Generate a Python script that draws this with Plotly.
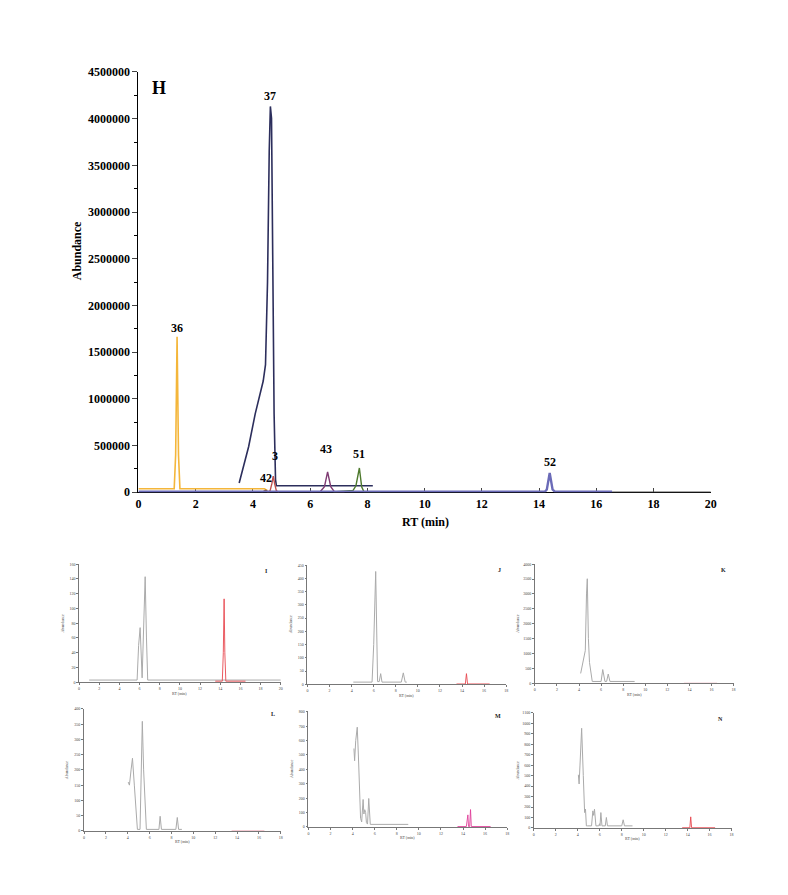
import plotly.graph_objects as go

W, H = 788, 895
SERIF = "Liberation Serif"

# ---------------- main chart (H) data ----------------
p36_x = [0, 1.25, 1.3, 1.35, 1.4, 1.45, 4.4, 4.5]
p36_y = [38000, 38000, 400000, 1665000, 400000, 38000, 38000, 20000]

p37_x = [3.52, 3.7, 3.85, 4.08, 4.19, 4.36, 4.44, 4.51, 4.57, 4.61, 4.65, 4.74, 4.79, 4.82, 8.19]
p37_y = [100000, 300000, 488000, 840000, 980000, 1191000, 1367000, 2245000, 3650000, 4131000,
         4005000, 840000, 137000, 70000, 70000]

p42_x = [4.3, 4.38, 4.45, 4.52, 4.6]
p42_y = [0, 8000, 22000, 8000, 0]

p3_x = [4.5, 4.6, 4.66, 4.71, 4.76, 4.82, 4.92]
p3_y = [0, 15000, 90000, 172000, 90000, 15000, 0]

p43_x = [6.0, 6.35, 6.5, 6.61, 6.72, 6.85, 7.2]
p43_y = [3000, 5000, 60000, 218000, 60000, 5000, 3000]

p51_x = [6.8, 7.3, 7.5, 7.6, 7.72, 7.8, 7.88, 8.45]
p51_y = [3000, 10000, 20000, 70000, 260000, 60000, 5000, 3000]

p52_x = [0, 14.2, 14.27, 14.37, 14.47, 14.55, 16.55]
p52_y = [6000, 6000, 30000, 207000, 30000, 6000, 6000]

tail_x = [16.55, 20]
tail_y = [0, 0]

main_labels = ["H", "36", "37", "42", "3", "43", "51", "52"]

# ---------------- small panels data ----------------
I_gray_x = [1.0, 5.75, 5.9, 6.05, 6.25, 6.35, 6.42, 6.55, 6.68, 6.8, 20]
I_gray_y = [3, 3, 50, 74, 6, 60, 90, 143, 60, 3, 3]
I_red_x = [13.5, 14.2, 14.3, 14.38, 14.45, 14.55, 16.5]
I_red_y = [1.5, 1.5, 40, 113, 40, 1.5, 1.5]

J_gray_x = [4.15, 5.85, 6.0, 6.18, 6.35, 6.5, 6.63, 6.75, 8.5, 8.68, 8.85, 9.0]
J_gray_y = [8, 8, 150, 426, 10, 10, 40, 8, 8, 43, 8, 8]
J_red_x = [13.5, 14.3, 14.4, 14.5, 16.5]
J_red_y = [1, 1, 40, 1, 1]

K_gray_x = [4.15, 4.35, 4.57, 4.68, 4.75, 4.85, 4.95, 5.2, 6.0, 6.15, 6.35, 6.5, 6.65, 6.8, 9.04]
K_gray_y = [330, 750, 1100, 3000, 3510, 1500, 700, 60, 60, 460, 60, 60, 310, 60, 60]
K_red_x = [13.5, 16.5]
K_red_y = [5, 5]

L_gray_x = [4.04, 4.15, 4.3, 4.43, 4.6, 4.88, 5.12, 5.25, 5.33, 5.45, 5.7, 6.85, 6.96, 7.08,
            8.4, 8.53, 8.65, 8.95]
L_gray_y = [160, 150, 200, 238, 150, 5, 5, 250, 359, 200, 5, 5, 48, 5, 5, 44, 5, 5]
L_red_x = [13.5, 16.5]
L_red_y = [1, 1]

M_gray_x = [4.12, 4.18, 4.28, 4.42, 4.52, 4.6, 4.72, 4.82, 4.95, 5.02, 5.1, 5.18, 5.25, 5.35,
            5.46, 5.6, 9.04]
M_gray_y = [545, 460, 600, 693, 500, 250, 60, 35, 191, 90, 120, 100, 30, 20, 198, 18, 18]
M_red_x = [13.5, 14.3, 14.44, 14.5, 14.6, 14.68, 14.75, 16.5]
M_red_y = [3, 3, 84, 3, 3, 121, 3, 3]

N_gray_x = [4.05, 4.12, 4.2, 4.35, 4.5, 4.62, 4.7, 4.78, 4.9, 5.25, 5.37, 5.45, 5.52, 5.65,
            5.9, 5.98, 6.02, 6.1, 6.2, 6.5, 6.6, 6.7, 8.0, 8.13, 8.25, 8.98]
N_gray_y = [508, 420, 600, 952, 500, 147, 180, 20, 20, 20, 163, 120, 179, 20, 20, 40, 20, 147,
            20, 20, 100, 20, 20, 78, 20, 20]
N_red_x = [13.5, 14.2, 14.28, 14.36, 16.5]
N_red_y = [2, 2, 106, 2, 2]


def px(x):
    return x / W


def py(y):
    return 1 - y / H


fig = go.Figure()

main_series = [
    (p36_x, p36_y, "#F4B63A", 1.6),
    (p37_x, p37_y, "#2C2E5C", 1.6),
    (p42_x, p42_y, "#7A4A2A", 1.2),
    (p3_x, p3_y, "#C0504D", 1.4),
    (p43_x, p43_y, "#7E3A72", 1.4),
    (p51_x, p51_y, "#4E7A2E", 1.4),
    (p52_x, p52_y, "#6B6BB8", 2.4),
    (tail_x, tail_y, "#555555", 1.5),
]
for xs, ys, col, w in main_series:
    fig.add_trace(go.Scatter(x=xs, y=ys, mode="lines", line=dict(color=col, width=w),
                             xaxis="x", yaxis="y", showlegend=False, hoverinfo="skip"))

bold13 = dict(family=SERIF, size=12, color="black", weight="bold")
layout = dict(
    width=W, height=H, margin=dict(l=0, r=0, t=0, b=0),
    paper_bgcolor="white", plot_bgcolor="white", showlegend=False,
    xaxis=dict(domain=[px(137), px(716)], range=[0, 20], dtick=2, ticks="inside", ticklen=4,
               showline=True, linecolor="black", linewidth=1.3, showgrid=False, zeroline=False,
               tickfont=bold13, anchor="y", layer="below traces"),
    yaxis=dict(domain=[py(493), py(66)], range=[0, 4500000], dtick=500000, tickformat="d",
               ticks="outside", ticklen=5, showline=True, linecolor="black", linewidth=1.3,
               showgrid=False, zeroline=False, tickfont=bold13, anchor="x",
               minor=dict(ticks="outside", dtick=250000, ticklen=3, tickcolor="black")),
)

annotations = []
lab_pos = {
    "H": (0.73, 4330000, 18), "36": (1.35, 1760000, 12), "37": (4.6, 4240000, 12),
    "42": (4.46, 158000, 12), "3": (4.77, 390000, 12), "43": (6.56, 464000, 12),
    "51": (7.7, 411000, 12), "52": (14.37, 327000, 12),
}
for lab in main_labels:
    x, y, s = lab_pos[lab]
    annotations.append(dict(x=x, y=y, xref="x", yref="y", text=lab, showarrow=False,
                            xanchor="center", yanchor="middle",
                            font=dict(family=SERIF, size=s, color="black", weight="bold")))
annotations.append(dict(x=px(427), y=py(523), xref="paper", yref="paper", text="RT (min)",
                        xanchor="center", yanchor="middle", showarrow=False, font=bold13))
annotations.append(dict(x=px(75), y=py(248), xref="paper", yref="paper", text="Abundance",
                        xanchor="center", yanchor="middle", textangle=-90, showarrow=False,
                        font=bold13))

# small panels
panels = [
    ("I", I_gray_x, I_gray_y, I_red_x, I_red_y, "#E8474F", (77, 281), (566, 686), 20, 160, 20, (267, 573)),
    ("J", J_gray_x, J_gray_y, J_red_x, J_red_y, "#E8474F", (308, 509), (567, 688), 18, 450, 50, (502, 572)),
    ("K", K_gray_x, K_gray_y, K_red_x, K_red_y, "#F2C0C8", (538, 739), (566, 687), 18, 4000, 500, (729, 572)),
    ("L", L_gray_x, L_gray_y, L_red_x, L_red_y, "#F2C0C8", (82, 281), (713, 837), 18, 400, 50, (273, 718)),
    ("M", M_gray_x, M_gray_y, M_red_x, M_red_y, "#E0409A", (309, 510), (716, 833), 18, 800, 100, (501, 720)),
    ("N", N_gray_x, N_gray_y, N_red_x, N_red_y, "#E8474F", (537, 737), (717, 834), 18, 1100, 100, (726, 723)),
]
tiny = dict(family=SERIF, size=4, color="#444444")
for i, (name, gx, gy, rx, ry, rcol, xd, yd, xmax, ymax, ydt, lpos) in enumerate(panels):
    n = i + 2
    xa, ya = f"x{n}", f"y{n}"
    fig.add_trace(go.Scatter(x=gx, y=gy, mode="lines", line=dict(color="#AAAAAA", width=1),
                             xaxis=xa, yaxis=ya, showlegend=False, hoverinfo="skip"))
    fig.add_trace(go.Scatter(x=rx, y=ry, mode="lines", line=dict(color=rcol, width=0.9),
                             xaxis=xa, yaxis=ya, showlegend=False, hoverinfo="skip"))
    layout[f"xaxis{n}"] = dict(domain=[px(xd[0]), px(xd[1])], range=[0, xmax], dtick=2,
                               ticks="outside", ticklen=2, tickcolor="#777777", showline=True,
                               linecolor="#777777", linewidth=0.8, showgrid=False, zeroline=False,
                               tickfont=tiny, anchor=ya)
    layout[f"yaxis{n}"] = dict(domain=[py(yd[1]), py(yd[0])], range=[0, ymax], dtick=ydt,
                               tickformat="d", ticks="outside", ticklen=2, tickcolor="#777777",
                               showline=True, linecolor="#777777", linewidth=0.8, showgrid=False,
                               zeroline=False, tickfont=tiny, anchor=xa)
    annotations.append(dict(x=px(lpos[0]), y=py(lpos[1]), xref="paper", yref="paper", text=name,
                            xanchor="center", yanchor="middle", showarrow=False,
                            font=dict(family=SERIF, size=6, color="#222222", weight="bold")))
    annotations.append(dict(x=px((xd[0] + xd[1]) / 2), y=py(yd[1] + 11), xref="paper", yref="paper",
                            text="RT (min)", xanchor="center", yanchor="middle", showarrow=False,
                            font=tiny))
    annotations.append(dict(x=px(xd[0] - 17), y=py((yd[0] + yd[1]) / 2), xref="paper", yref="paper",
                            text="Abundance", textangle=-90, xanchor="center", yanchor="middle",
                            showarrow=False, font=tiny))

layout["annotations"] = annotations
fig.update_layout(**layout)
fig.write_html("out.html")
